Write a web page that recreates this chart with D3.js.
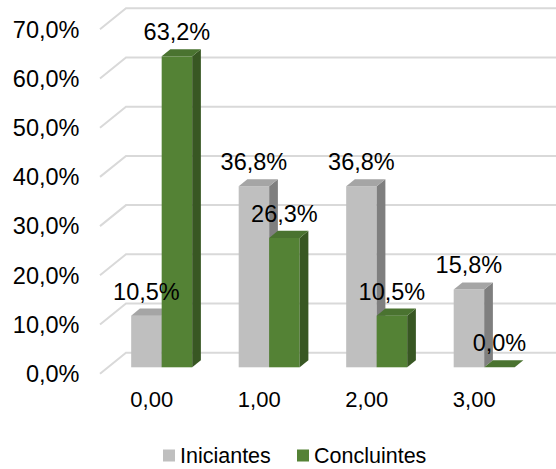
<!DOCTYPE html>
<html>
<head>
<meta charset="utf-8">
<script src="https://cdn.jsdelivr.net/npm/d3@7"></script>
<style>
  html, body { margin: 0; padding: 0; background: #fff; }
  svg { display: block; font-family: "Liberation Sans", Arial, sans-serif; }
</style>
</head>
<body>
<svg id="chart" width="556" height="469"></svg>
<script>
// Chart data
const categories = ["0,00", "1,00", "2,00", "3,00"];
const seriesNames = ["Iniciantes", "Concluintes"];
const iniciantes = [10.5, 36.8, 36.8, 15.8];
const concluintes = [63.2, 26.3, 10.5, 0.0];
const yTicks = [0, 10, 20, 30, 40, 50, 60, 70];

const seriesValues = [iniciantes, concluintes];
const colors = {
  Iniciantes: { front: "#bfbfbf", top: "#a5a5a5", side: "#7f7f7f" },
  Concluintes: { front: "#548235", top: "#4a7330", side: "#385723" }
};

const svg = d3.select("#chart");

// Back wall of the 3D plot area and the depth offset of the floor
const wall = { left: 126, right: 556, top: 8.3, bottom: 352.7 };
const depth = { dx: -26, dy: 21 };
const tFront = 0.695, tBack = 0.36; // bar front/back planes as a fraction of the depth

function shift(t) { return [depth.dx * t, depth.dy * t]; }

const y = d3.scaleLinear().domain([0, 70]).range([wall.bottom, wall.top]);
const x0 = d3.scaleBand().domain(categories).range([wall.left, wall.right])
  .paddingInner(0.4326).paddingOuter(0.2163);
const x1 = d3.scaleBand().domain(seriesNames).range([0, x0.bandwidth()]);

const fmt = v => d3.format(".1f")(v).replace(".", ",") + "%";

// Gridlines: back wall horizontals and side wall diagonals
const grid = svg.append("g").attr("stroke", "#d9d9d9").attr("stroke-width", 2).attr("fill", "none");
grid.selectAll("path.g").data(yTicks).join("path")
  .attr("d", d => `M${wall.left + depth.dx},${y(d) + depth.dy}L${wall.left},${y(d)}L${wall.right},${y(d)}`);

// Y axis labels sit at the front edge of the side wall
svg.append("g").selectAll("text").data(yTicks).join("text")
  .attr("x", 79.5)
  .attr("y", d => y(d) + depth.dy)
  .attr("dy", "0.35em")
  .attr("text-anchor", "end")
  .attr("font-size", 23.5)
  .attr("fill", "#000")
  .text(d => fmt(d));

// Bars, drawn left to right so the right neighbour covers hidden side faces
const [fx, fy] = shift(tFront);
const [bx, by] = shift(tBack);
const bars = [];
categories.forEach((c, i) => {
  seriesNames.forEach((s, j) => {
    bars.push({ cat: c, series: s, value: seriesValues[j][i] });
  });
});

const barG = svg.append("g");
bars.forEach(b => {
  const xl = x0(b.cat) + x1(b.series);
  const w = x1.bandwidth();
  const yt = y(b.value), yb = y(0);
  const col = colors[b.series];
  const g = barG.append("g");
  // front face
  g.append("rect")
    .attr("x", xl + fx).attr("y", yt + fy)
    .attr("width", w).attr("height", Math.max(0, yb - yt))
    .attr("fill", col.front);
  // side face
  g.append("path")
    .attr("d", `M${xl + w + fx},${yt + fy}L${xl + w + bx},${yt + by}L${xl + w + bx},${yb + by}L${xl + w + fx},${yb + fy}Z`)
    .attr("fill", col.side);
  // top face
  g.append("path")
    .attr("d", `M${xl + fx},${yt + fy}L${xl + w + fx},${yt + fy}L${xl + w + bx},${yt + by}L${xl + bx},${yt + by}Z`)
    .attr("fill", col.top);
});

// Value labels above each bar
svg.append("g").selectAll("text").data(bars).join("text")
  .attr("x", d => x0(d.cat) + x1(d.series) + x1.bandwidth() / 2 + fx)
  .attr("y", d => y(d.value) - 1.5)
  .attr("text-anchor", "middle")
  .attr("font-size", 23.5)
  .attr("fill", "#000")
  .text(d => fmt(d.value));

// Category labels along the front edge of the floor
svg.append("g").selectAll("text").data(categories).join("text")
  .attr("x", d => x0(d) + x0.bandwidth() / 2 + depth.dx - 2)
  .attr("y", wall.bottom + depth.dy + 33.6)
  .attr("text-anchor", "middle")
  .attr("font-size", 22)
  .attr("fill", "#000")
  .text(d => d);

// Legend
const legendItems = [
  { name: "Iniciantes", x: 163 },
  { name: "Concluintes", x: 297 }
];
const lg = svg.append("g");
legendItems.forEach(it => {
  lg.append("rect").attr("x", it.x).attr("y", 449.5).attr("width", 12).attr("height", 12)
    .attr("fill", colors[it.name].front);
  lg.append("text").attr("x", it.x + 17).attr("y", 463.3)
    .attr("font-size", 21.5).attr("fill", "#000").text(it.name);
});
</script>
</body>
</html>
